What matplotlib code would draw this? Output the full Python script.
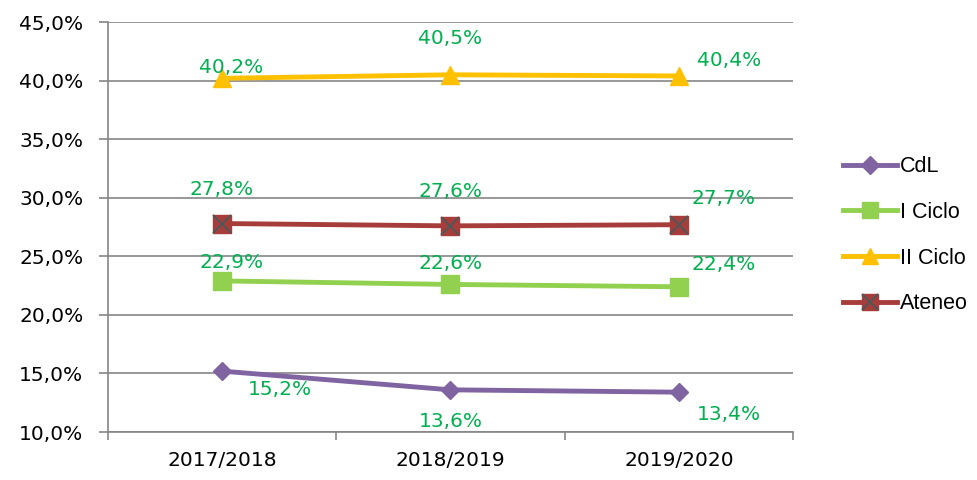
import matplotlib
matplotlib.use("Agg")
import matplotlib.pyplot as plt
from matplotlib.lines import Line2D
from matplotlib.ticker import FuncFormatter

years = ["2017/2018", "2018/2019", "2019/2020"]
cdl = [15.2, 13.6, 13.4]
ciclo1 = [22.9, 22.6, 22.4]
ciclo2 = [40.2, 40.5, 40.4]
ateneo = [27.8, 27.6, 27.7]

plt.rcParams['font.family'] = ['DejaVu Sans']

fig = plt.figure(figsize=(9.78, 4.8), dpi=100)
ax = fig.add_axes([0.110, 0.10, 0.701, 0.854])

x = [0.5, 1.5, 2.5]
green = "#00B050"
grey = "#868686"

ax.plot(x, cdl, color="#8064A2", lw=3.5, marker="D", ms=9.5, zorder=3)
ax.plot(x, ciclo1, color="#92D050", lw=3.5, marker="s", ms=12.5, zorder=3)
ax.plot(x, ciclo2, color="#FFC000", lw=3.5, marker="^", ms=12.5, zorder=3)
ax.plot(x, ateneo, color="#A63D3A", lw=3.5, marker="s", ms=12.5, zorder=3)
ax.plot(x, ateneo, ls="none", marker="x", ms=12.5, mew=1.5, color="#555555", zorder=4)

# offsets (points) for data labels
offsets = {
    "cdl": [(42, -13), (0, -23), (36, -16)],
    "c1": [(7, 13), (0, 15), (32, 16)],
    "c2": [(7, 8), (0, 26), (36, 11)],
    "at": [(0, 24.5), (0, 25), (32, 19)],
}
for key, vals in [("cdl", cdl), ("c1", ciclo1), ("c2", ciclo2), ("at", ateneo)]:
    for xi, v, off in zip(x, vals, offsets[key]):
        ax.annotate(f"{v:.1f}%".replace(".", ","), (xi, v), xytext=off,
                    textcoords="offset points", ha="center", va="center",
                    color=green, fontsize=14.5, zorder=5)

ax.set_xlim(0, 3)
ax.set_ylim(10, 45)
ax.set_yticks(range(10, 46, 5))
ax.yaxis.set_major_formatter(FuncFormatter(lambda v, p: f"{v:.1f}%".replace(".", ",")))
ax.set_xticks([0, 1, 2, 3])
ax.set_xticklabels([])
ax.set_xticks(x, minor=True)
ax.set_xticklabels(years, minor=True)
ax.tick_params(axis="x", which="minor", length=0, pad=14, labelsize=14.5)
ax.tick_params(axis="x", which="major", length=6, color=grey, width=1.2, direction="out")
ax.tick_params(axis="y", length=6.5, color=grey, width=1.2, labelsize=14.5, pad=11)

ax.grid(axis="y", color=grey, lw=1.2)
ax.set_axisbelow(True)
for s in ["top", "right"]:
    ax.spines[s].set_visible(False)
for s in ["left", "bottom"]:
    ax.spines[s].set_color(grey)
    ax.spines[s].set_linewidth(1.2)

handles = [
    Line2D([], [], color="#8064A2", lw=3.5, marker="D", ms=9.5),
    Line2D([], [], color="#92D050", lw=3.5, marker="s", ms=12),
    Line2D([], [], color="#FFC000", lw=3.5, marker="^", ms=12),
    (Line2D([], [], color="#A63D3A", lw=3.5, marker="s", ms=12),
     Line2D([], [], ls="none", marker="x", ms=12, mew=1.5, color="#555555")),
]
labels = ["CdL", "I Ciclo", "II Ciclo", "Ateneo"]
fig.legend(handles, labels, loc="center left", bbox_to_anchor=(0.842, 0.510),
           frameon=False, handlelength=2.5, handletextpad=0.15, labelspacing=1.15,
           prop={"family": "Liberation Sans", "size": 15.5})

fig.savefig("out.png", dpi=100)
